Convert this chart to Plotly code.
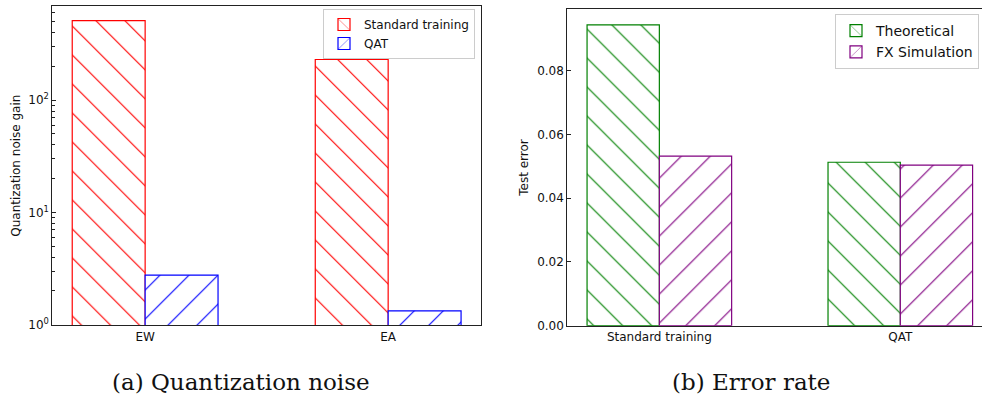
import plotly.graph_objects as go

# ---- data ----
noise_categories = ["EW", "EA"]
noise_standard = [510, 230]
noise_qat = [2.76, 1.33]

error_categories = ["Standard training", "QAT"]
error_theoretical = [0.0944, 0.0513]
error_fx_sim = [0.0532, 0.0504]

log_tick_vals = [1, 10, 100]
log_tick_text = ["10<sup>0</sup>", "10<sup>1</sup>", "10<sup>2</sup>"]
err_tick_vals = [0.0, 0.02, 0.04, 0.06, 0.08]
err_tick_text = ["0.00", "0.02", "0.04", "0.06", "0.08"]

W, H = 982, 398
FONT = "DejaVu Sans"
AX = "#222222"
PSIZE = 20.5
PSOL = 0.055

def hatch_bar(x, y, name, color, shape, xaxis, yaxis, offset, legend):
    return go.Bar(
        x=x, y=y, name=name, width=0.3, offset=offset,
        xaxis=xaxis, yaxis=yaxis, legend=legend,
        marker=dict(
            color="white",
            line=dict(color=color, width=1.2),
            pattern=dict(shape=shape, fgcolor=color, bgcolor="white",
                         size=PSIZE, solidity=PSOL, fillmode="replace"),
        ),
    )

fig = go.Figure()
fig.add_trace(hatch_bar(noise_categories, noise_standard, "Standard training", "#ff0000", "\\", "x", "y", -0.3, "legend"))
fig.add_trace(hatch_bar(noise_categories, noise_qat, "QAT", "#0000ff", "/", "x", "y", 0.0, "legend"))
fig.add_trace(hatch_bar(error_categories, error_theoretical, "Theoretical", "#008000", "\\", "x2", "y2", -0.3, "legend2"))
fig.add_trace(hatch_bar(error_categories, error_fx_sim, "FX Simulation", "#800080", "/", "x2", "y2", 0.0, "legend2"))

minor_vals = [m * 10 ** d for d in range(0, 3) for m in range(2, 10)]

axis_common = dict(showline=True, linecolor=AX, linewidth=1, showgrid=False, zeroline=False,
                   automargin=False, tickfont=dict(family=FONT, size=12, color="#111"))

fig.update_layout(
    width=W, height=H, autosize=False,
    margin=dict(l=0, r=0, t=0, b=0, pad=0),
    paper_bgcolor="white", plot_bgcolor="white",
    barmode="overlay",
    font=dict(family=FONT, size=12, color="#111"),
    xaxis=dict(domain=[52.3 / W, 481 / W], range=[-0.382, 1.382], mirror=True,
               ticks="", anchor="y", **axis_common),
    yaxis=dict(domain=[1 - 325.3 / H, 1 - 6 / H], type="log", range=[-0.005, 2.838],
               mirror=True, ticks="inside", ticklen=4, tickwidth=1, tickcolor=AX,
               tickmode="array", tickvals=log_tick_vals, ticktext=log_tick_text,
               minor=dict(tickmode="array", tickvals=minor_vals, ticks="inside", ticklen=2.2,
                          tickwidth=1, tickcolor=AX, showgrid=False),
               title=dict(text="Quantization noise gain", standoff=5,
                          font=dict(family=FONT, size=12, color="#111")),
               anchor="x", **axis_common),
    xaxis2=dict(domain=[567.3 / W, 1.0], range=[-0.382, 1.339], mirror=True,
                ticks="", anchor="y2", **axis_common),
    yaxis2=dict(domain=[1 - 325.7 / H, 1 - 9.3 / H], range=[0, 0.0993],
                mirror=False, ticks="inside", ticklen=4, tickwidth=1, tickcolor=AX,
                tickmode="array", tickvals=err_tick_vals, ticktext=err_tick_text,
                title=dict(text="Test error", standoff=5,
                           font=dict(family=FONT, size=12, color="#111")),
                anchor="x2", **axis_common),
    legend=dict(x=475 / W, y=1 - 9 / H, xanchor="right", yanchor="top",
                bgcolor="rgba(255,255,255,0.8)", bordercolor="#cccccc", borderwidth=1,
                font=dict(family=FONT, size=12, color="#111"), tracegroupgap=0),
    legend2=dict(x=835 / W, y=1 - 14 / H, xanchor="left", yanchor="top",
                 bgcolor="rgba(255,255,255,0.8)", bordercolor="#cccccc", borderwidth=1,
                 font=dict(family=FONT, size=14, color="#111"), tracegroupgap=0),
    showlegend=True,
)

fig.add_annotation(text="(a) Quantization noise", x=241 / W, y=(H - 382) / H, xref="paper", yref="paper",
                   xanchor="center", yanchor="middle", showarrow=False,
                   font=dict(family="DejaVu Serif", size=23, color="#111"))
fig.add_annotation(text="(b) Error rate", x=750.8 / W, y=(H - 382) / H, xref="paper", yref="paper",
                   xanchor="center", yanchor="middle", showarrow=False,
                   font=dict(family="DejaVu Serif", size=23, color="#111"))

fig.write_html("out.html")
